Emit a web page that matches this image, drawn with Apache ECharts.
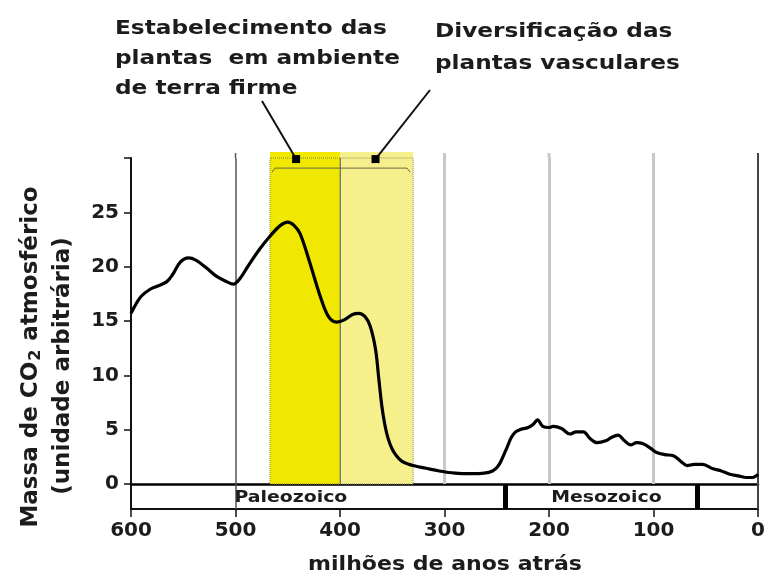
<!DOCTYPE html>
<html><head><meta charset="utf-8">
<script src="https://cdn.jsdelivr.net/npm/echarts@6/dist/echarts.min.js"></script>
<style>html,body{margin:0;padding:0;background:#fff}#c{width:778px;height:588px}</style>
</head><body><div id="c"></div>
<script>
// ---- data (millions of years ago, CO2 mass in arbitrary units) ----
const years = [600,595,590,582,575,566,560,553,545,538,528,518,508,502,495,489,477,467,457,450,444,438,429,419,411,403,396,388,382,376,371,366,363,360,357,354,350,346,341,335,328,318,305,290,275,262,254,249,245,240,236,232,228,220,215,211,206,200,196,188,180,174,167,161,154,145,140,134,128,122,116,110,103,97,89,81,74,68,61,53,43,35,27,19,11,5,1,0];
const co2   = [15.7,16.6,17.3,17.9,18.2,18.6,19.3,20.4,20.8,20.6,19.9,19.1,18.6,18.4,19.0,19.9,21.6,22.8,23.8,24.1,23.8,23.0,20.4,17.3,15.4,14.9,15.1,15.6,15.7,15.4,14.5,12.4,9.8,7.2,5.4,4.2,3.2,2.6,2.1,1.85,1.65,1.45,1.2,1.0,0.95,1.0,1.2,1.6,2.3,3.4,4.3,4.8,5.0,5.2,5.5,5.9,5.3,5.2,5.3,5.1,4.6,4.8,4.8,4.2,3.8,4.0,4.3,4.5,4.0,3.6,3.8,3.7,3.3,2.9,2.7,2.6,2.1,1.7,1.8,1.8,1.4,1.2,0.9,0.75,0.6,0.6,0.8,0.9];
const gridYears = [500,400,300,200,100,0];
const bandDark = [467,400];   // Estabelecimento das plantas em ambiente de terra firme
const bandLight = [400,330];  // Diversificação das plantas vasculares
const eraBoundaries = [242,58];
const eraNames = ['Paleozoico','Mesozoico'];
const eraCenters = [447,145];
const annotationYears = [442,366];
const annotationTexts = ['Estabelecimento das\nplantas  em ambiente\nde terra firme','Diversificação das\nplantas vasculares'];
const bracketYears = [465,333];

// ---- styles / layout ----
const FONT = "'DejaVu Sans', sans-serif";
const TXT = '#1c1c1c';
const gridLineStyle = {500:{color:'#555',width:1.5},400:{color:'#777',width:1},300:{color:'#c8c8c8',width:3},200:{color:'#c8c8c8',width:3},100:{color:'#c8c8c8',width:3},0:{color:'#444',width:2}};

const chart = echarts.init(document.getElementById('c'));
const pts = years.map((y,i)=>[y,co2[i]]);

chart.setOption({
  animation:false,
  grid:[
    {left:131,right:20,top:158,bottom:104},
    {left:131,right:20,top:484,height:25}
  ],
  xAxis:[
    {gridIndex:0,type:'value',min:0,max:600,interval:100,inverse:true,
     axisLine:{onZero:false,lineStyle:{color:'#000',width:2.5}},axisTick:{show:false},axisLabel:{show:false},splitLine:{show:false}},
    {gridIndex:1,type:'value',min:0,max:600,interval:100,inverse:true,
     axisLine:{onZero:false,lineStyle:{color:'#111',width:2}},
     axisTick:{show:true,length:8,lineStyle:{color:'#111',width:1.5}},
     axisLabel:{fontFamily:FONT,fontWeight:'bold',fontSize:20,color:TXT,margin:12},splitLine:{show:false}}
  ],
  yAxis:[
    {gridIndex:0,type:'value',min:0,max:30,interval:5,
     axisLine:{show:true,onZero:false,lineStyle:{color:'#111',width:2}},
     axisTick:{show:true,length:7,lineStyle:{color:'#111',width:1.5}},
     axisLabel:{fontFamily:FONT,fontWeight:'bold',fontSize:20,color:TXT,margin:12,formatter:v=>v===30?'':String(v)},
     splitLine:{show:false}},
    {gridIndex:1,type:'value',min:0,max:1,
     axisLine:{show:true,onZero:false,lineStyle:{color:'#111',width:2}},
     axisTick:{show:false},axisLabel:{show:false},splitLine:{show:false}}
  ],
  series:[
    {type:'line',name:'grid',xAxisIndex:0,yAxisIndex:0,data:[],z:1,silent:true,
     markLine:{silent:true,symbol:['none','none'],label:{show:false},animation:false,
       data:gridYears.map(g=>[{coord:[g,0],lineStyle:Object.assign({type:'solid'},gridLineStyle[g])},{coord:[g,30]}])}},
    {type:'line',name:'bands',xAxisIndex:0,yAxisIndex:0,data:[],z:2,silent:true,
     markArea:{silent:true,label:{show:false},
       data:[
         [{xAxis:bandDark[0],yAxis:0,itemStyle:{color:'#f0e800',borderColor:'#8a8a40',borderWidth:1,borderType:'dotted'}},{xAxis:bandDark[1],yAxis:30}],
         [{xAxis:bandLight[0],yAxis:0,itemStyle:{color:'#f6f08c',borderColor:'#8a8a60',borderWidth:1,borderType:'dotted'}},{xAxis:bandLight[1],yAxis:30}]
       ]}},
    {type:'line',name:'CO2',xAxisIndex:0,yAxisIndex:0,data:pts,z:5,smooth:0.35,symbol:'none',
     lineStyle:{color:'#000',width:3.2}},
    {type:'line',name:'eras',xAxisIndex:1,yAxisIndex:1,data:[],z:3,silent:true,
     markLine:{silent:true,symbol:['none','none'],label:{show:false},
       data:[
         ...eraBoundaries.map(b=>[{coord:[b,0],lineStyle:{type:'solid',color:'#000',width:5}},{coord:[b,1]}]),
         [{coord:[0,0],lineStyle:{type:'solid',color:'#444',width:2}},{coord:[0,1]}],
         [{coord:[500,0],lineStyle:{type:'solid',color:'#555',width:1.5}},{coord:[500,1]}]
       ]}}
  ]
});

// ---- annotations placed through the axes' own scales ----
function px(t,v){return chart.convertToPixel({gridIndex:0},[t,v]);}
function px2(t,v){return chart.convertToPixel({gridIndex:1},[t,v]);}
const g = [];
const SX = 1.16;
const textPos = [{x:115,y:14,lh:30},{x:435,y:16,lh:32}];
const leaderEnds = [[262,101],[430,90]];
annotationTexts.forEach((t,i)=>{
  g.push({type:'text',x:textPos[i].x,y:textPos[i].y,scaleX:SX,z:20,
    style:{text:t,font:'bold 20px '+FONT,fill:TXT,lineHeight:textPos[i].lh,verticalAlign:'top',align:'left'}});
  const p = px(annotationYears[i],29.9);
  g.push({type:'line',z:20,shape:{x1:p[0],y1:p[1],x2:leaderEnds[i][0],y2:leaderEnds[i][1]},style:{stroke:'#111',lineWidth:2}});
  g.push({type:'rect',z:21,shape:{x:p[0]-4,y:p[1]-4,width:8,height:8},style:{fill:'#000'}});
});
// grid lines and yellow band tops continue a few pixels above the axis end
gridYears.filter(y=>y!==400).forEach(y=>{
  const p = px(y,30);
  const s = gridLineStyle[y];
  g.push({type:'line',z:0,shape:{x1:p[0],y1:p[1]-5,x2:p[0],y2:p[1]},style:{stroke:s.color,lineWidth:s.width}});
});
const d0 = px(bandDark[0],30), d1 = px(bandDark[1],30), l1 = px(bandLight[1],30);
g.push({type:'rect',z:0,shape:{x:d0[0],y:d0[1]-6,width:d1[0]-d0[0],height:6},style:{fill:'#f0e800'}});
g.push({type:'rect',z:0,shape:{x:d1[0],y:d1[1]-6,width:l1[0]-d1[0],height:6},style:{fill:'#f6f08c'}});
// bracket line across the bands
const b1 = px(bracketYears[0],29.07), b2 = px(bracketYears[1],29.07);
g.push({type:'polyline',z:19,shape:{points:[[b1[0],b1[1]+4],[b1[0]+3,b1[1]],[b2[0]-3,b2[1]],[b2[0],b2[1]+4]]},style:{stroke:'#6a6a40',lineWidth:1,fill:null}});
// era labels
eraNames.forEach((n,i)=>{
  const p = px2(eraCenters[i],0.5);
  g.push({type:'text',x:p[0],y:p[1]+1,scaleX:1.18,z:20,style:{text:n,font:'bold 16px '+FONT,fill:TXT,align:'center',verticalAlign:'middle'}});
});
// x-axis title
g.push({type:'text',x:445,y:565,scaleX:SX,z:20,style:{text:'milhões de anos atrás',font:'bold 19px '+FONT,fill:TXT,align:'center',verticalAlign:'middle'}});
// y-axis title (two rotated lines)
g.push({type:'text',x:31,y:357,rotation:Math.PI/2,z:20,style:{
  text:'{a|Massa de CO}{s|2}{a| atmosférico}',align:'center',verticalAlign:'middle',
  rich:{a:{font:'bold 23px '+FONT,fill:TXT},s:{font:'bold 16px '+FONT,fill:TXT,padding:[9,1,0,1]}}}});
g.push({type:'text',x:63,y:366,rotation:Math.PI/2,z:20,style:{text:'(unidade arbitrária)',font:'bold 23px '+FONT,fill:TXT,align:'center',verticalAlign:'middle'}});
chart.setOption({graphic:g});
</script></body></html>
